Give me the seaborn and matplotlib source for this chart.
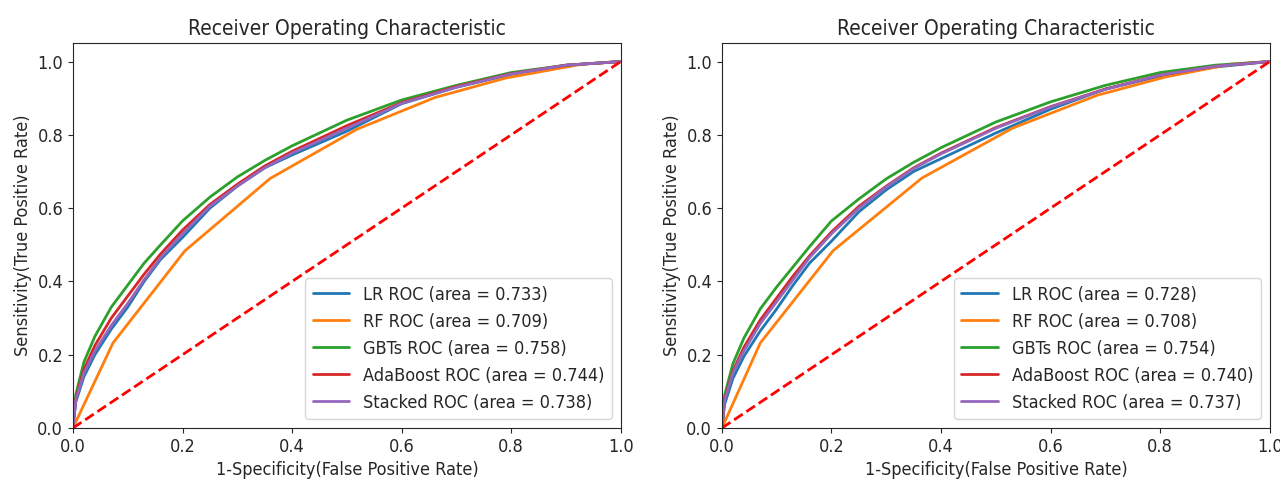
import numpy as np
import pandas as pd
import seaborn as sns
import matplotlib
matplotlib.use("Agg")
import matplotlib.pyplot as plt

# shared false positive grid for the smooth curves
fpr_grid = [0, 0.005, 0.02, 0.04, 0.07, 0.1, 0.13, 0.16, 0.2, 0.25, 0.3, 0.35,
            0.4, 0.5, 0.6, 0.7, 0.8, 0.9, 1.0]

# left panel
lr_tpr_1 = [0, 0.07, 0.14, 0.2, 0.27, 0.33, 0.4, 0.46, 0.52, 0.6, 0.66, 0.71,
            0.745, 0.81, 0.885, 0.93, 0.965, 0.99, 1.0]
gbt_tpr_1 = [0, 0.09, 0.18, 0.25, 0.33, 0.39, 0.45, 0.5, 0.565, 0.63, 0.685,
             0.73, 0.77, 0.84, 0.895, 0.935, 0.97, 0.99, 1.0]
ada_tpr_1 = [0, 0.08, 0.16, 0.225, 0.3, 0.36, 0.42, 0.475, 0.54, 0.61, 0.665,
             0.715, 0.755, 0.825, 0.888, 0.932, 0.967, 0.99, 1.0]
stk_tpr_1 = [0, 0.075, 0.15, 0.21, 0.28, 0.34, 0.405, 0.465, 0.53, 0.605, 0.66,
             0.71, 0.75, 0.818, 0.886, 0.93, 0.966, 0.99, 1.0]
rf_fpr_1 = [0, 0.073, 0.204, 0.36, 0.518, 0.661, 0.79, 0.93, 1.0]
rf_tpr_1 = [0, 0.232, 0.483, 0.681, 0.815, 0.902, 0.955, 0.993, 1.0]
auc_1 = [0.733, 0.709, 0.758, 0.744, 0.738]

# right panel
lr_tpr_2 = [0, 0.065, 0.135, 0.195, 0.265, 0.325, 0.39, 0.45, 0.51, 0.59, 0.65,
            0.7, 0.735, 0.805, 0.87, 0.925, 0.96, 0.985, 1.0]
gbt_tpr_2 = [0, 0.09, 0.175, 0.245, 0.325, 0.385, 0.44, 0.495, 0.565, 0.625,
             0.68, 0.725, 0.765, 0.835, 0.89, 0.935, 0.97, 0.99, 1.0]
ada_tpr_2 = [0, 0.08, 0.155, 0.22, 0.295, 0.355, 0.415, 0.47, 0.535, 0.605,
             0.66, 0.71, 0.75, 0.82, 0.877, 0.925, 0.963, 0.987, 1.0]
stk_tpr_2 = [0, 0.075, 0.15, 0.21, 0.285, 0.345, 0.405, 0.465, 0.53, 0.6,
             0.658, 0.708, 0.748, 0.818, 0.876, 0.924, 0.963, 0.987, 1.0]
rf_fpr_2 = [0, 0.07, 0.203, 0.365, 0.53, 0.685, 0.81, 0.93, 1.0]
rf_tpr_2 = [0, 0.232, 0.484, 0.682, 0.818, 0.908, 0.958, 0.993, 1.0]
auc_2 = [0.728, 0.708, 0.754, 0.740, 0.737]

models = ["LR", "RF", "GBTs", "AdaBoost", "Stacked"]

sns.set_style("ticks")
plt.rcParams["font.family"] = ["DejaVu Sans"]
plt.rcParams["font.stretch"] = "condensed"

colors = sns.color_palette("tab10", 5)

fig = plt.figure(figsize=(12.8, 4.84), dpi=100)
ax1 = fig.add_axes([0.057, 0.1157, 0.428, 0.795])
ax2 = fig.add_axes([0.564, 0.1157, 0.428, 0.795])


def roc_panel(ax, curves, aucs):
    for i, (fpr, tpr) in enumerate(curves):
        sns.lineplot(x=fpr, y=tpr, ax=ax, sort=False, estimator=None,
                     color=colors[i], lw=2,
                     label="%s ROC (area = %0.3f)" % (models[i], aucs[i]))
    ax.plot([0, 1], [0, 1], "r--", lw=2)
    ax.set_xlim(0, 1)
    ax.set_ylim(0, 1.05)
    ax.set_title("Receiver Operating Characteristic", fontsize=15)
    ax.set_xlabel("1-Specificity(False Positive Rate)", fontsize=13)
    ax.set_ylabel("Sensitivity(True Positive Rate)", fontsize=13)
    ax.tick_params(labelsize=13)
    ax.legend(loc="lower right", fontsize=13)


roc_panel(ax1, [(fpr_grid, lr_tpr_1), (rf_fpr_1, rf_tpr_1), (fpr_grid, gbt_tpr_1),
                (fpr_grid, ada_tpr_1), (fpr_grid, stk_tpr_1)], auc_1)
roc_panel(ax2, [(fpr_grid, lr_tpr_2), (rf_fpr_2, rf_tpr_2), (fpr_grid, gbt_tpr_2),
                (fpr_grid, ada_tpr_2), (fpr_grid, stk_tpr_2)], auc_2)

plt.savefig("out.png", dpi=100)
